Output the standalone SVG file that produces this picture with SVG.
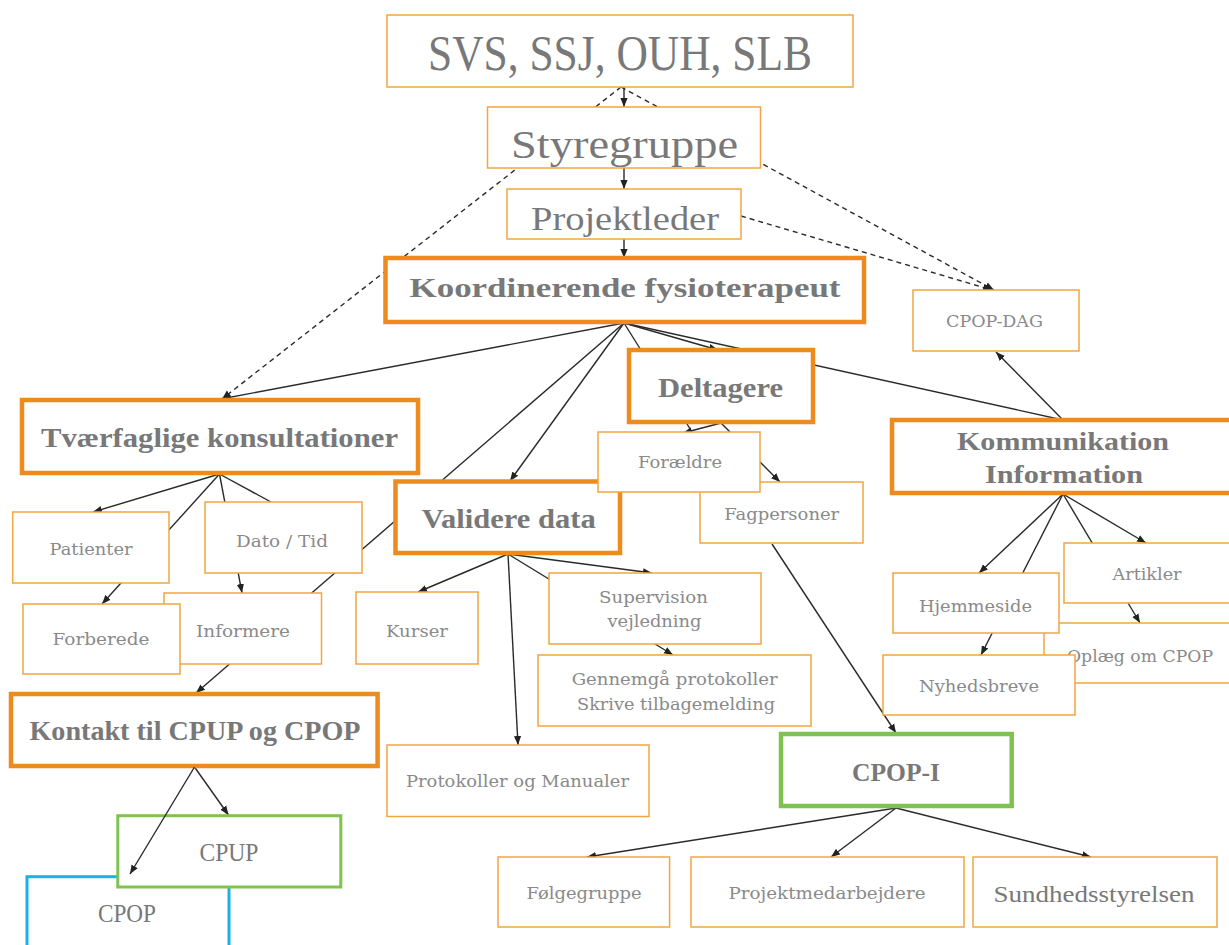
<svg xmlns="http://www.w3.org/2000/svg" width="1229" height="945" viewBox="0 0 1229 945">
<defs>
<marker id="arr" viewBox="0 0 10 10" refX="10" refY="5" markerWidth="9" markerHeight="9" orient="auto" markerUnits="userSpaceOnUse"><path d="M0,1 L10,5 L0,9 Z" fill="#222"/></marker>
</defs>
<style>
.b{fill:#fff;stroke:#f2a540;stroke-width:1.5}
.bt{fill:#fff;stroke:#ee8b1e;stroke-width:4.5}
.g{fill:#fff;stroke:#80c24f;stroke-width:3}
.g4{fill:#fff;stroke:#80c24f;stroke-width:4.5}
.bl{fill:#fff;stroke:#1eb0e8;stroke-width:3}
.c{font-family:"Liberation Serif",serif;fill:#787878;text-anchor:middle}
.cb{font-family:"Liberation Serif",serif;font-weight:bold;fill:#787878;text-anchor:middle}
.s{font-family:"DejaVu Serif",serif;fill:#8a8a8a;font-size:17px;text-anchor:middle}
.ln{stroke:#2a2a2a;stroke-width:1.4;fill:none}
.a{marker-end:url(#arr)}
.d{stroke-dasharray:5 4}
</style>
<rect width="1229" height="945" fill="#fff"/>
<g id="connectors">
<path class="ln a" d="M624,87 L624,107"/>
<path class="ln a" d="M624,168 L624,189"/>
<path class="ln a" d="M624,239 L624,258"/>
<path class="ln a d" d="M621,87 L222,399"/>
<path class="ln a d" d="M621,87 L994,290"/>
<path class="ln a d" d="M741,216 L992,290"/>
<path class="ln a" d="M624,323 L221,399"/>
<path class="ln a" d="M624,323 L196,693"/>
<path class="ln a" d="M624,323 L510,481"/>
<path class="ln" d="M624,323 L692,432"/>
<path class="ln a" d="M624,323 L718,350"/>
<path class="ln" d="M624,323 L1063,420"/>
<path class="ln a" d="M721,423 L683,433"/>
<path class="ln a" d="M721,423 L780,482"/>
<path class="ln a" d="M1063,420 L996,352"/>
<path class="ln a" d="M1063,494 L979,573"/>
<path class="ln a" d="M1063,494 L981,655"/>
<path class="ln a" d="M1063,494 L1146,543"/>
<path class="ln a" d="M1063,494 L1140,623"/>
<path class="ln a" d="M219.5,474 L93,512"/>
<path class="ln a" d="M219.5,474 L102,604"/>
<path class="ln a" d="M219.5,474 L242,593"/>
<path class="ln" d="M219.5,474 L271,502"/>
<path class="ln a" d="M508,554 L418,592"/>
<path class="ln a" d="M508,554 L518,745"/>
<path class="ln a" d="M508,554 L652,573"/>
<path class="ln a" d="M508,554 L673,655"/>
<path class="ln a" d="M772,544 L896,733"/>
<path class="ln a" d="M896,808 L587,857"/>
<path class="ln a" d="M896,808 L831,857"/>
<path class="ln a" d="M896,808 L1091,857"/>
<path class="ln a" d="M194.5,767 L228.5,815"/>
</g>
<g id="n-svs"><rect class="b" x="387" y="15" width="466" height="72"/><text class="c" x="620" y="70" font-size="50" textLength="384" lengthAdjust="spacingAndGlyphs">SVS, SSJ, OUH, SLB</text></g>
<g id="n-styregruppe"><rect class="b" x="487.5" y="107" width="273" height="61"/><text class="c" x="624.5" y="158" font-size="40" textLength="227" lengthAdjust="spacingAndGlyphs">Styregruppe</text></g>
<g id="n-projektleder"><rect class="b" x="507" y="189" width="234" height="50"/><text class="c" x="625" y="230" font-size="33" textLength="188" lengthAdjust="spacingAndGlyphs">Projektleder</text></g>
<g id="n-koordinerende"><rect class="bt" x="385.5" y="258" width="478.5" height="64"/><text class="cb" x="625" y="297" font-size="28" textLength="431" lengthAdjust="spacingAndGlyphs">Koordinerende fysioterapeut</text></g>
<g id="n-cpopdag"><rect class="b" x="913" y="290" width="166" height="61"/><text class="s" x="994.5" y="327" textLength="97" lengthAdjust="spacingAndGlyphs">CPOP-DAG</text></g>
<g id="n-tvaerfaglige"><rect class="bt" x="22" y="400" width="396" height="73"/><text class="cb" x="219.5" y="447" font-size="27" textLength="357" lengthAdjust="spacingAndGlyphs">Tværfaglige konsultationer</text></g>
<g id="n-deltagere"><rect class="bt" x="629" y="350" width="184" height="72"/><text class="cb" x="720.5" y="397" font-size="28" textLength="125" lengthAdjust="spacingAndGlyphs">Deltagere</text></g>
<g id="n-kommunikation"><rect class="bt" x="892" y="420" width="342" height="73"/><text class="cb" x="1063" y="450" font-size="26" textLength="212" lengthAdjust="spacingAndGlyphs">Kommunikation</text><text class="cb" x="1064" y="483" font-size="26" textLength="158" lengthAdjust="spacingAndGlyphs">Information</text></g>
<g id="n-patienter"><rect class="b" x="12.7" y="512" width="156.3" height="71"/><text class="s" x="91" y="555" textLength="83" lengthAdjust="spacingAndGlyphs">Patienter</text></g>
<g id="n-datotid"><rect class="b" x="205" y="502" width="157" height="71"/><text class="s" x="282" y="547" textLength="92" lengthAdjust="spacingAndGlyphs">Dato / Tid</text></g>
<g id="n-informere"><rect class="b" x="164" y="593" width="157.5" height="71"/><text class="s" x="243" y="637" textLength="94" lengthAdjust="spacingAndGlyphs">Informere</text></g>
<g id="n-forberede"><rect class="b" x="23" y="604" width="157" height="70"/><text class="s" x="101" y="645" textLength="97" lengthAdjust="spacingAndGlyphs">Forberede</text></g>
<g id="n-validere"><rect class="bt" x="395.5" y="481.5" width="224.5" height="71.5"/><text class="cb" x="508.7" y="528" font-size="28" textLength="174" lengthAdjust="spacingAndGlyphs">Validere data</text></g>
<g id="n-fagpersoner"><rect class="b" x="700" y="482" width="163" height="61"/><text class="s" x="781.7" y="520" textLength="115" lengthAdjust="spacingAndGlyphs">Fagpersoner</text></g>
<g id="n-foraeldre"><rect class="b" x="598" y="432" width="162" height="60"/><text class="s" x="680" y="468" textLength="84" lengthAdjust="spacingAndGlyphs">Forældre</text></g>
<g id="n-kurser"><rect class="b" x="356" y="592" width="122" height="72"/><text class="s" x="417" y="637" textLength="62" lengthAdjust="spacingAndGlyphs">Kurser</text></g>
<g id="n-supervision"><rect class="b" x="549" y="573" width="212" height="71"/><text class="s" x="653.5" y="603" textLength="109" lengthAdjust="spacingAndGlyphs">Supervision</text><text class="s" x="654.5" y="627" textLength="94" lengthAdjust="spacingAndGlyphs">vejledning</text></g>
<g id="n-gennemgaa"><rect class="b" x="538" y="655" width="273" height="71"/><text class="s" x="674.7" y="685" textLength="206" lengthAdjust="spacingAndGlyphs">Gennemgå protokoller</text><text class="s" x="676" y="710" textLength="198" lengthAdjust="spacingAndGlyphs">Skrive tilbagemelding</text></g>
<g id="n-protokoller"><rect class="b" x="387" y="745" width="262" height="71.5"/><text class="s" x="517.5" y="787" textLength="223" lengthAdjust="spacingAndGlyphs">Protokoller og Manualer</text></g>
<g id="n-oplaeg"><rect class="b" x="1044" y="623" width="192" height="60"/><text class="s" x="1140" y="662" textLength="146" lengthAdjust="spacingAndGlyphs">Oplæg om CPOP</text></g>
<g id="n-artikler"><rect class="b" x="1064" y="543" width="170" height="60"/><text class="s" x="1147" y="580" textLength="69" lengthAdjust="spacingAndGlyphs">Artikler</text></g>
<g id="n-hjemmeside"><rect class="b" x="893" y="573" width="166" height="60"/><text class="s" x="975.5" y="612" textLength="113" lengthAdjust="spacingAndGlyphs">Hjemmeside</text></g>
<g id="n-nyhedsbreve"><rect class="b" x="883" y="655" width="192" height="60"/><text class="s" x="979" y="692" textLength="120" lengthAdjust="spacingAndGlyphs">Nyhedsbreve</text></g>
<g id="n-kontakt"><rect class="bt" x="11" y="694" width="366.6" height="72"/><text class="cb" x="195" y="740" font-size="27" textLength="331" lengthAdjust="spacingAndGlyphs">Kontakt til CPUP og CPOP</text></g>
<g id="n-cpopi"><rect class="g4" x="781" y="734" width="230.7" height="72"/><text class="cb" x="896" y="781" font-size="26" textLength="88" lengthAdjust="spacingAndGlyphs">CPOP-I</text></g>
<g id="n-folgegruppe"><rect class="b" x="498" y="857" width="171.6" height="70"/><text class="s" x="584" y="899" textLength="115" lengthAdjust="spacingAndGlyphs">Følgegruppe</text></g>
<g id="n-projektmedarbejdere"><rect class="b" x="691" y="857" width="273" height="70"/><text class="s" x="827" y="899" textLength="197" lengthAdjust="spacingAndGlyphs">Projektmedarbejdere</text></g>
<g id="n-sundhedsstyrelsen"><rect class="b" x="973" y="857" width="244" height="70"/><text class="c" x="1094" y="902" font-size="24" textLength="201" lengthAdjust="spacingAndGlyphs">Sundhedsstyrelsen</text></g>
<g id="n-cpop"><rect class="bl" x="27" y="876.7" width="202" height="72"/><text class="c" x="127" y="922" font-size="25" textLength="58" lengthAdjust="spacingAndGlyphs">CPOP</text></g>
<g id="n-cpup"><rect class="g" x="117.8" y="815.7" width="223" height="71.3"/><text class="c" x="229" y="861" font-size="25" textLength="59" lengthAdjust="spacingAndGlyphs">CPUP</text></g>
<g id="connectors-over">
<path class="ln a" d="M194.5,767 L130,874"/>
</g>
</svg>
